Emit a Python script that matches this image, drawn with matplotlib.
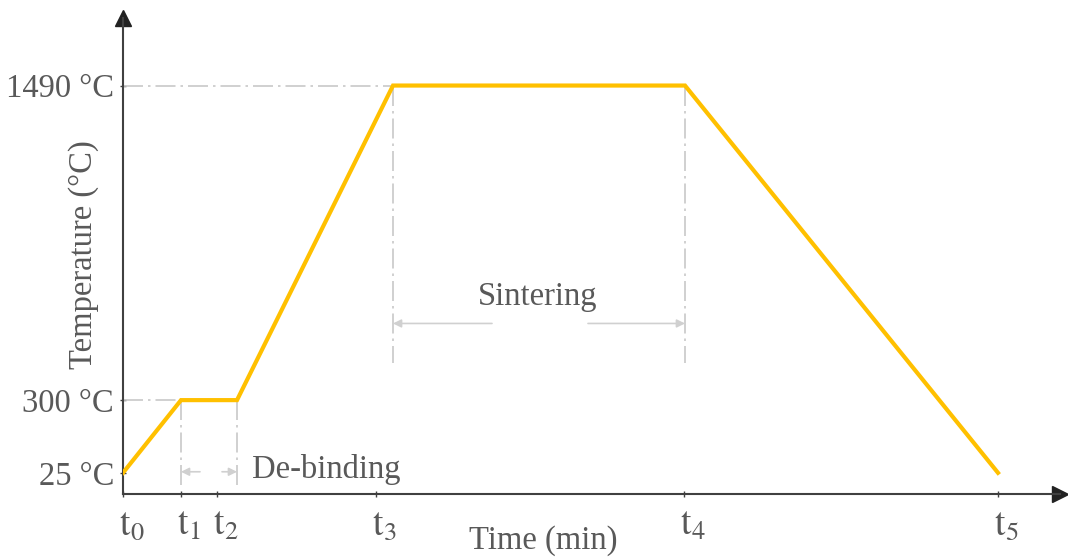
import matplotlib
matplotlib.use('Agg')
import matplotlib.pyplot as plt
import matplotlib.transforms as mtransforms

# data (time in arbitrary units)
time_pts = [0, 58, 114, 270, 562, 875]
temp_pts = [25, 300, 300, 1490, 1490, 25]
tick_times = [0, 58, 94, 253, 561, 875]
tick_names = [r'$\mathrm{t}_0$', r'$\mathrm{t}_1$', r'$\mathrm{t}_2$',
              r'$\mathrm{t}_3$', r'$\mathrm{t}_4$', r'$\mathrm{t}_5$']
temp_ticks = [25, 300, 1490]
temp_names = ['25 °C', '300 °C', '1490 °C']

plt.rcParams['font.family'] = ['Liberation Serif', 'DejaVu Serif']
plt.rcParams['mathtext.fontset'] = 'stix'

txt = '#595959'
guide = '#c8c8c8'
axc = '#404040'

fig = plt.figure(figsize=(10.68, 5.57), dpi=100)
ax = fig.add_axes([0.11517, 0.11311, 0.87734, 0.85458])
ax.set_xlim(0, 937)
ax.set_ylim(-55.1, 1745.5)

# heating profile
ax.plot(time_pts, temp_pts, color='#FFC000', lw=3, solid_joinstyle='miter', zorder=5)

# dash-dot guide lines
dd = dict(color=guide, lw=1.2, dashes=(12, 3, 1.5, 3))
ax.plot([0, time_pts[3]], [1490, 1490], **dd)
ax.plot([0, time_pts[1]], [300, 300], **dd)
ax.plot([time_pts[1], time_pts[1]], [300, -30], **dd)
ax.plot([time_pts[2], time_pts[2]], [300, -30], **dd)
ax.plot([time_pts[3], time_pts[3]], [1490, 440], **dd)
ax.plot([time_pts[4], time_pts[4]], [1490, 440], **dd)

# dimension arrows
ap = dict(arrowstyle='-|>', color='#d0d0d0', lw=1.2, mutation_scale=12, shrinkA=0, shrinkB=0)
ax.annotate('', xy=(time_pts[3], 590), xytext=(369, 590), arrowprops=ap)
ax.annotate('', xy=(time_pts[4], 590), xytext=(465, 590), arrowprops=ap)
ax.annotate('', xy=(time_pts[1], 29), xytext=(77, 29), arrowprops=ap)
ax.annotate('', xy=(time_pts[2], 29), xytext=(99, 29), arrowprops=ap)

ax.text(415, 690, 'Sintering', color=txt, fontsize=23.5, ha='center', va='center')
ax.text(129, 38, 'De-binding', color=txt, fontsize=23.5, ha='left', va='center')

# axes with arrow heads
for s in ['top', 'right']:
    ax.spines[s].set_visible(False)
for s in ['left', 'bottom']:
    ax.spines[s].set_color(axc)
    ax.spines[s].set_linewidth(1.5)
ax.plot(1, 0, '>', color='#222222', ms=11, transform=ax.transAxes, clip_on=False)
ax.plot(0, 1, '^', color='#222222', ms=11, transform=ax.transAxes, clip_on=False)

ax.set_xticks(tick_times)
ax.set_xticklabels(tick_names)
ax.set_yticks(temp_ticks)
ax.set_yticklabels(temp_names)
ax.tick_params(direction='inout', length=5, width=1, color=axc, labelcolor=txt)
ax.tick_params(axis='x', labelsize=27, pad=8)
ax.tick_params(axis='y', labelsize=23.5, pad=4)

off = mtransforms.ScaledTranslation(-4 / 100, 0, fig.dpi_scale_trans)
for lab in ax.get_xticklabels():
    lab.set_ha('left')
    lab.set_transform(lab.get_transform() + off)

fig.text(84 / 1068, 1 - 255 / 557, 'Temperature (°C)', rotation=90, color=txt,
         fontsize=23.5, ha='center', va='center')
fig.text(543 / 1068, 1 - 541 / 557, 'Time (min)', color=txt, fontsize=23.5,
         ha='center', va='center')

fig.savefig('out.png', dpi=100)
